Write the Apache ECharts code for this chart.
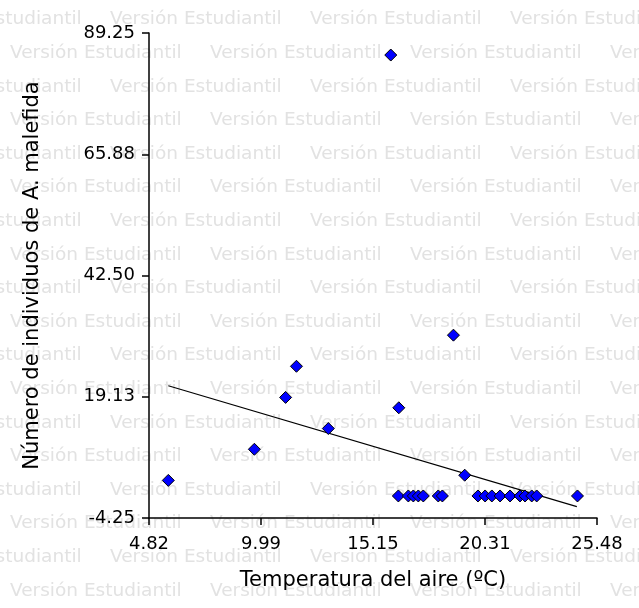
<!DOCTYPE html>
<html>
<head>
<meta charset="utf-8">
<script src="https://cdn.jsdelivr.net/npm/echarts@6/dist/echarts.min.js"></script>
<style>
  html, body { margin: 0; padding: 0; background: #ffffff; }
  #chart { width: 639px; height: 608px; }
</style>
</head>
<body>
<div id="chart"></div>
<script>
// Temperatura del aire (ºC) y número de individuos observados
const temperatura = [
  5.71, 9.68, 11.12, 11.62, 13.09, 15.97, 16.34, 18.86, 19.38,
  16.32, 16.78, 17.01, 17.24, 17.47, 18.16, 18.35,
  19.99, 20.32, 20.63, 21.01, 21.47, 21.93, 22.16, 22.47, 22.70, 24.58
];
const individuos = [
  3, 9, 19, 25, 13, 85, 17, 31, 4,
  0, 0, 0, 0, 0, 0, 0,
  0, 0, 0, 0, 0, 0, 0, 0, 0, 0
];

// Recta de regresión ajustada (extremos)
const trendTemp = [5.71, 24.55];
const trendFit = [21.25, -2.07];

// Marcas de los ejes
const xTickValues = [4.82, 9.985, 15.15, 20.315, 25.48];
const xTickLabels = ['4.82', '9.99', '15.15', '20.31', '25.48'];
const yTickValues = [-4.25, 19.125, 42.5, 65.875, 89.25];
const yTickLabels = ['-4.25', '19.13', '42.50', '65.88', '89.25'];

const xTitle = 'Temperatura del aire (ºC)';
const yTitle = 'Número de individuos de A. malefida';
const stamp = 'Versión Estudiantil';

const FONT = 'DejaVu Sans';

function labelFor(values, labels) {
  return function (v) {
    let best = 0;
    for (let i = 1; i < values.length; i++) {
      if (Math.abs(values[i] - v) < Math.abs(values[best] - v)) best = i;
    }
    return labels[best];
  };
}

// Background stamp rows
const stampElements = [];
for (let r = 0; r < 18; r++) {
  const y = 19.5 + r * 33.6;
  const start = (r % 2 === 0) ? -90 : 10;
  for (let x = start - 200; x < 700; x += 200) {
    stampElements.push({
      type: 'text',
      x: x,
      y: y,
      z: -100,
      silent: true,
      style: {
        text: stamp,
        fill: '#e2e2e2',
        font: '18.5px "' + FONT + '"',
        textVerticalAlign: 'middle',
        textAlign: 'left'
      }
    });
  }
}

const points = temperatura.map((t, i) => [t, individuos[i]]);
const trend = trendTemp.map((t, i) => [t, trendFit[i]]);

const axisLineStyle = { color: '#000000', width: 1.5 };

const option = {
  backgroundColor: '#ffffff',
  animation: false,
  textStyle: { fontFamily: FONT },
  graphic: { elements: stampElements },
  grid: { left: 149, top: 33, right: 42, bottom: 90, containLabel: false },
  xAxis: {
    type: 'value',
    min: 4.82,
    max: 25.48,
    axisLine: { show: true, onZero: false, lineStyle: axisLineStyle },
    axisTick: { show: true, length: 7, customValues: xTickValues, lineStyle: axisLineStyle },
    axisLabel: {
      customValues: xTickValues,
      formatter: labelFor(xTickValues, xTickLabels),
      color: '#000000',
      fontFamily: FONT,
      fontSize: 18,
      margin: 17,
      showMinLabel: true,
      showMaxLabel: true
    },
    splitLine: { show: false },
    name: xTitle,
    nameLocation: 'middle',
    nameGap: 52,
    nameTextStyle: { color: '#000000', fontFamily: FONT, fontSize: 21 }
  },
  yAxis: {
    type: 'value',
    min: -4.25,
    max: 89.25,
    axisLine: { show: true, onZero: false, lineStyle: axisLineStyle },
    axisTick: { show: true, length: 7, customValues: yTickValues, lineStyle: axisLineStyle },
    axisLabel: {
      customValues: yTickValues,
      formatter: labelFor(yTickValues, yTickLabels),
      color: '#000000',
      fontFamily: FONT,
      fontSize: 18,
      margin: 14,
      showMinLabel: true,
      showMaxLabel: true
    },
    splitLine: { show: false },
    name: yTitle,
    nameLocation: 'middle',
    nameGap: 106,
    nameRotate: 90,
    nameTextStyle: { color: '#000000', fontFamily: FONT, fontSize: 21 }
  },
  series: [
    {
      type: 'line',
      data: trend,
      symbol: 'none',
      lineStyle: { color: '#000000', width: 1.2 },
      silent: true,
      z: 2
    },
    {
      type: 'scatter',
      data: points,
      symbol: 'diamond',
      symbolSize: 12,
      itemStyle: { color: '#0000ff', borderColor: '#000000', borderWidth: 1, opacity: 1 },
      z: 3
    }
  ]
};

const chart = echarts.init(document.getElementById('chart'), null, { renderer: 'canvas' });
chart.setOption(option);
</script>
</body>
</html>
